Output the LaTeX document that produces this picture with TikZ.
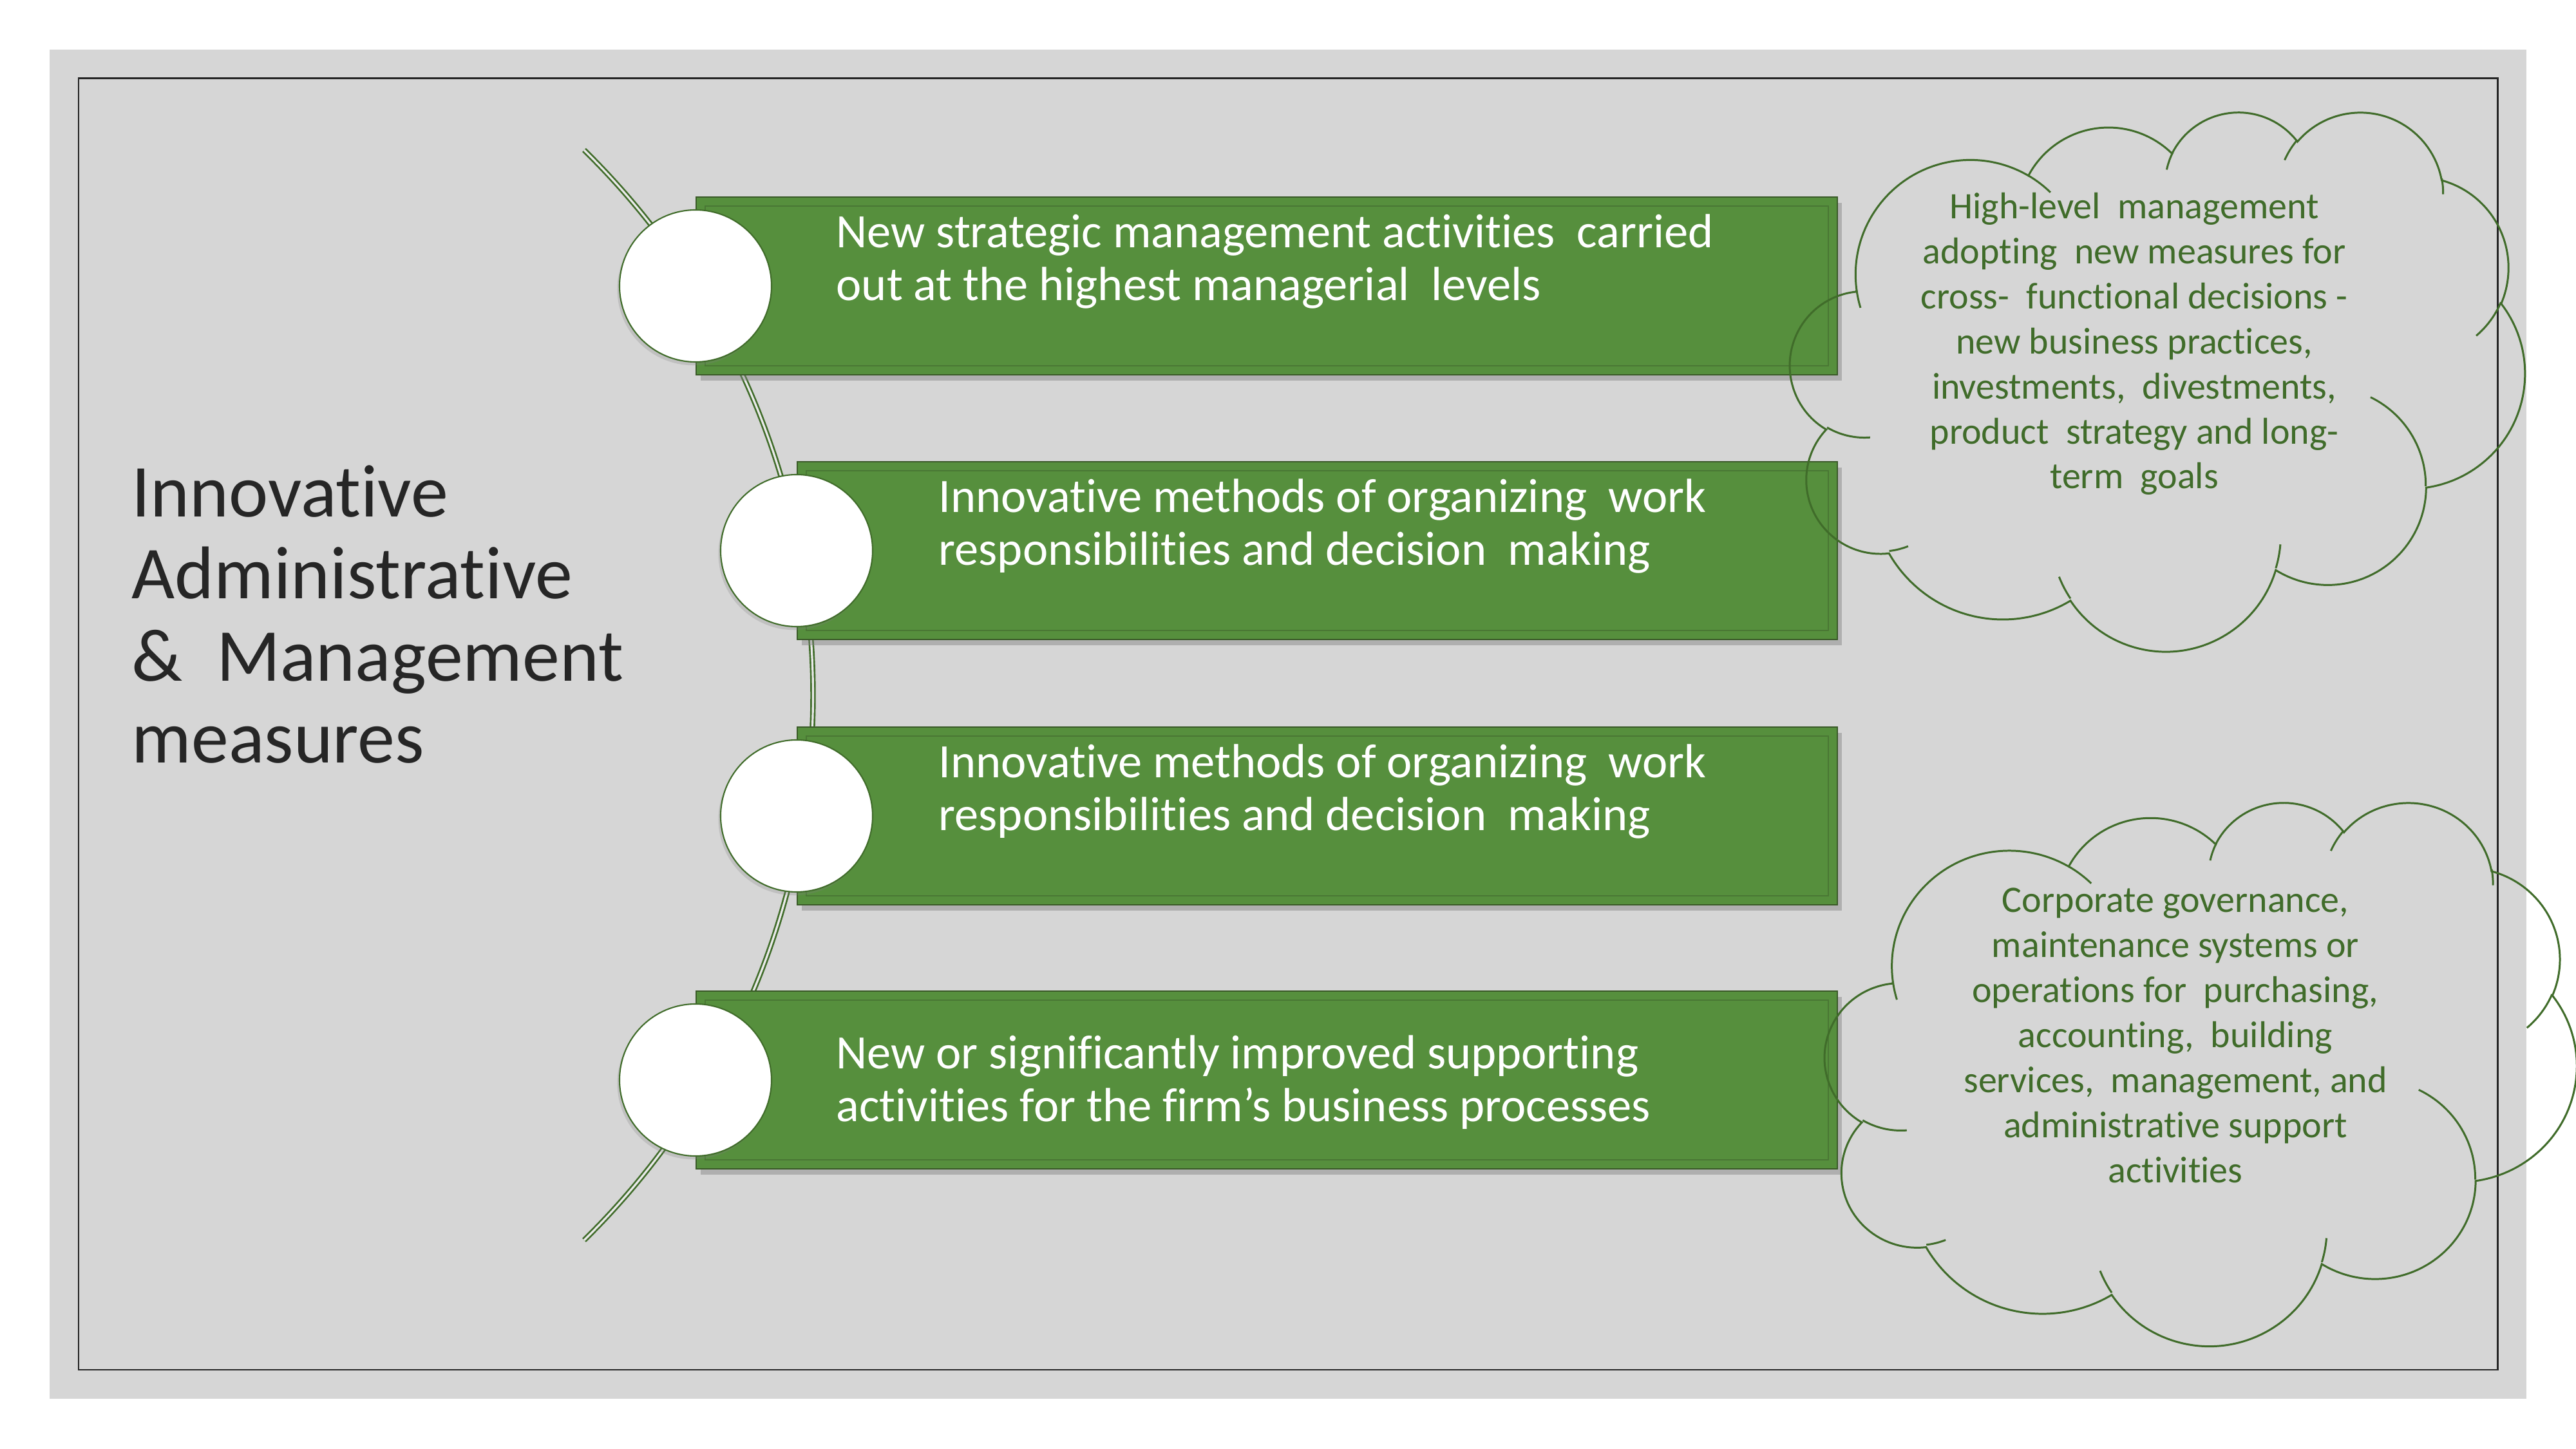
\documentclass[tikz,border=0pt]{standalone}
\usepackage{fontspec}
\setmainfont{Carlito}[Ligatures=NoCommon]
\usepackage{xcolor}
\usepackage{tikz}
\usetikzlibrary{positioning,calc,shadows}

\definecolor{slidegray}{RGB}{214,214,214}
\definecolor{framegray}{RGB}{38,38,38}
\definecolor{barfill}{RGB}{86,143,61}
\definecolor{barline}{RGB}{58,90,40}
\definecolor{leafgreen}{RGB}{64,108,42}

% one arc of the cloud outline: wR, hR, start angle, sweep (as in the slide shape)
\newcommand{\cloudarc}[4]{%
  \pgfextra{%
    \pgfmathparse{atan2(#1*sin(#3),#2*cos(#3))}\xdef\cldfrom{\pgfmathresult}%
    \pgfmathparse{atan2(#1*sin(#3+#4),#2*cos(#3+#4))}\xdef\cldto{\pgfmathresult}%
    \pgfmathparse{mod(\cldto-\cldfrom+720,360)}\xdef\cldsweep{\pgfmathresult}%
  }%
  arc[x radius=#1, y radius=#2, start angle=\cldfrom, delta angle=\cldsweep]%
}

% cloud: #1 top left corner, #2 x unit, #3 y unit (box is 4320 x 4320 units)
\newcommand{\slidecloud}[3]{%
  \begin{scope}[shift={#1}, x=#2, y=#3]
    \draw[cloudline] (390,1437)
      \cloudarc{675.3}{919.0}{-190.4875}{123.7805}
      \cloudarc{533.3}{726.7}{-144.1024}{89.9452}
      \cloudarc{436.5}{594.5}{-145.8079}{99.7230}
      \cloudarc{485.7}{659.5}{-130.9861}{117.2417}
      \cloudarc{533.3}{727.3}{-78.7089}{109.0269}
      \cloudarc{677.5}{922.0}{-46.2673}{130.2690}
      \cloudarc{578.5}{786.7}{0.6250}{114.0333}
      \cloudarc{675.2}{921.5}{22.4516}{115.1726}
      \cloudarc{772.0}{1054.3}{66.2426}{75.7110}
      \cloudarc{436.0}{591.8}{-274.9421}{146.7356}
      \cloudarc{434.5}{594.5}{-246.8285}{152.5189} -- cycle;
    % inner creases
    \draw[cloudline] (469.3,2617.7) \cloudarc{434.5}{594.5}{86.7420}{26.4295};
    \draw[cloudline] (692.8,3489.9) \cloudarc{436.0}{591.8}{73.6105}{11.4475};
    \draw[cloudline] (1647.8,3909.0) \cloudarc{675.2}{921.5}{137.6242}{14.0811};
    \draw[cloudline] (2882.7,3475.1) \cloudarc{675.2}{921.5}{6.4533}{15.9984};
    \draw[cloudline] (3412.9,2295.4) \cloudarc{578.5}{786.7}{-70.2924}{70.9174};
    \draw[cloudline] (4179.8,1535.4) \cloudarc{533.3}{727.3}{30.3180}{27.7515};
    \draw[cloudline] (3832.4,542.6) \cloudarc{485.7}{659.5}{-13.7443}{14.8589};
    \draw[cloudline] (2907.8,395.2) \cloudarc{485.7}{659.5}{-149.1815}{18.1954};
    \draw[cloudline] (2214.1,472.0) \cloudarc{436.5}{594.5}{-163.4943}{17.6864};
    \draw[cloudline] (1400.0,519.2) \cloudarc{675.3}{919.0}{-66.7070}{12.3194};
    \draw[cloudline] (412.7,1578.9) \cloudarc{675.3}{919.0}{157.6544}{11.8582};
  \end{scope}}

\begin{document}
\begin{tikzpicture}[
        x=1cm, y=-1cm,
        itembar/.style={draw=barline,fill=barfill,line width=0.6pt,minimum height=2.76cm,anchor=west,
            drop shadow={shadow xshift=2pt,shadow yshift=-2.5pt,opacity=0.45}},
        barinner/.style={draw=barline!45!barfill,line width=0.6pt},
        itemdot/.style={circle,draw=leafgreen,fill=white,line width=0.6pt,minimum size=2.36cm,
            drop shadow={shadow xshift=-1pt,shadow yshift=-1.5pt,opacity=0.25}},
        bartext/.style={text=white,anchor=west,align=left,inner sep=0pt,font=\fontsize{21.2}{23.3}\selectfont},
        headline/.style={text=framegray,anchor=west,align=left,inner sep=0pt,font=\fontsize{33}{36.2}\selectfont},
        cloudline/.style={draw=leafgreen,line width=0.85pt},
        cloudtext/.style={text=leafgreen,align=center,inner sep=0pt,font=\fontsize{16.5}{19.9}\selectfont},
        spine/.style={draw=leafgreen,line width=0.75pt,double=slidegray!50!white,double distance=0.9pt},
    ]

    \useasboundingbox (0,0) rectangle (40,22.5);
    \fill[white] (0,0) rectangle (40,22.5);
    \fill[slidegray] (0.77,0.77) rectangle (39.23,21.72);
    \draw[framegray,line width=0.85pt] (1.22,1.22) rectangle (38.78,21.27);

    \node[headline] (title) at (2.04,9.54) {Innovative\\Administrative\\\&~ Management\\measures};

    % curved spine behind the list
    \coordinate (spinetop) at (9.07,2.33);
    \draw[spine] (spinetop) arc[start angle=-45.56,end angle=45.56,radius=11.855];

    \node[itembar,minimum width=17.72cm] (bar1) at (10.80,4.44) {};
    \node[itembar,minimum width=16.15cm] (bar2) at (12.37,8.55) {};
    \node[itembar,minimum width=16.15cm] (bar3) at (12.37,12.67) {};
    \node[itembar,minimum width=17.72cm] (bar4) at (10.80,16.77) {};

    \draw[barinner] ([xshift=0.15cm,yshift=0.15cm]bar1.south west) rectangle ([xshift=-0.15cm,yshift=-0.15cm]bar1.north east);
    \draw[barinner] ([xshift=0.15cm,yshift=0.15cm]bar2.south west) rectangle ([xshift=-0.15cm,yshift=-0.15cm]bar2.north east);
    \draw[barinner] ([xshift=0.15cm,yshift=0.15cm]bar3.south west) rectangle ([xshift=-0.15cm,yshift=-0.15cm]bar3.north east);
    \draw[barinner] ([xshift=0.15cm,yshift=0.15cm]bar4.south west) rectangle ([xshift=-0.15cm,yshift=-0.15cm]bar4.north east);

    \node[itemdot] (dot1) at (bar1.west) {};
    \node[itemdot] (dot2) at (bar2.west) {};
    \node[itemdot] (dot3) at (bar3.west) {};
    \node[itemdot] (dot4) at (bar4.west) {};

    \node[bartext] (text1) at ([xshift=2.18cm,yshift=0.38cm]bar1.west)
        {New strategic management activities~ carried\\out at the highest managerial~ levels};
    \node[bartext] (text2) at ([xshift=2.20cm,yshift=0.38cm]bar2.west)
        {Innovative methods of organizing~ work\\responsibilities and decision~ making};
    \node[bartext] (text3) at ([xshift=2.20cm,yshift=0.38cm]bar3.west)
        {Innovative methods of organizing~ work\\responsibilities and decision~ making};
    \node[bartext] (text4) at ([xshift=2.18cm,yshift=-0.04cm]bar4.west)
        {New or significantly improved supporting\\activities for the firm’s business processes};

    % the two notes
    \slidecloud{(27.80,1.72)}{0.0026458cm}{-0.0019421cm}
    \slidecloud{(28.34,12.44)}{0.0026944cm}{-0.0019468cm}

    \node[cloudtext] (note1) at (33.14,5.34) {High-level~ management\\adopting~ new measures for\\cross-~ functional decisions -\\new business practices,\\investments,~ divestments,\\product~ strategy and long-\\term~ goals};
    \node[cloudtext] (note2) at (33.78,16.08) {Corporate governance,\\maintenance systems or\\operations for~ purchasing,\\accounting,~ building\\services,~ management, and\\administrative support\\activities};
    \end{tikzpicture}
\end{document}
